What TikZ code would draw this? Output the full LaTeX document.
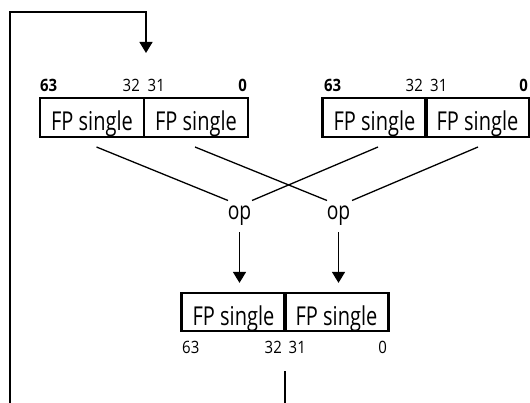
\documentclass[tikz,border=0pt]{standalone}
\usepackage{fontspec}
\setmainfont{Open Sans}
\newfontfamily\cellfont[FakeStretch=0.77]{Open Sans}
\newfontfamily\numfont[FakeStretch=0.88]{Open Sans}
\usetikzlibrary{arrows.meta}
\tikzset{
  cell/.style={draw, line width=2.2pt, minimum width=104pt, minimum height=39pt,
    inner sep=0pt, font=\cellfont\fontsize{26}{26}\selectfont,
    text height=29pt, text depth=2pt},
  bcell/.style={cell, minimum height=38pt},
  lab/.style={inner sep=0pt, font=\numfont\fontsize{17}{17}\selectfont},
  opnode/.style={inner sep=0pt, font=\cellfont\fontsize{25}{25}\selectfont},
  wire/.style={line width=1.3pt},
  arr/.style={wire, -{Triangle[length=11pt,width=13pt]}}
}
\begin{document}
\begin{tikzpicture}[x=1pt,y=-1pt]
\useasboundingbox (0,0) rectangle (530,403);
% top-left register
\node[cell] (L1) at (92,117.5) {FP single};
\node[cell] (L2) at (196,117.5) {FP single};
\node[lab, anchor=base west] (l63) at (40,92) {\bfseries 63};
\node[lab, anchor=base east] (l32) at (140,92) {32};
\node[lab, anchor=base west] (l31) at (147.5,92) {31};
\node[lab, anchor=base east] (l0) at (247,92) {\bfseries 0};
% top-right register
\node[cell] (R1) at (374.5,117.5) {FP single};
\node[cell] (R2) at (477.5,117.5) {FP single};
\node[lab, anchor=base west] (r63) at (324,92) {\bfseries 63};
\node[lab, anchor=base east] (r32) at (423,92) {32};
\node[lab, anchor=base west] (r31) at (430,92) {31};
\node[lab, anchor=base east] (r0) at (528,92) {\bfseries 0};
% result register
\node[bcell] (B1) at (233.5,312) {FP single};
\node[bcell] (B2) at (336.5,312) {FP single};
\node[lab, anchor=base west] (b63) at (182,353) {63};
\node[lab, anchor=base east] (b32) at (282,353) {32};
\node[lab, anchor=base west] (b31) at (288.5,353) {31};
\node[lab, anchor=base east] (b0) at (387,353) {0};
% operations
\node[opnode, anchor=base] (op1) at (239.5,220) {op};
\node[opnode, anchor=base] (op2) at (338.5,220) {op};
% crossing wires
\coordinate (s1) at (96.5,147);
\coordinate (e1) at (228,200.5);
\coordinate (s2) at (195,147);
\coordinate (e2) at (327,200.5);
\coordinate (s3) at (378,147);
\coordinate (e3) at (252,200.5);
\coordinate (s4) at (478,147);
\coordinate (e4) at (352,200.5);
\draw[wire] (s1) -- (e1);
\draw[wire] (s2) -- (e2);
\draw[wire] (s3) -- (e3);
\draw[wire] (s4) -- (e4);
% op results
\draw[arr, shorten <=6pt, shorten >=9pt] (op1.south) -- (op1.south |- B1.north);
\draw[arr, shorten <=6pt, shorten >=9pt] (op2.south) -- (op2.south |- B2.north);
% feedback loop
\coordinate (outtop) at (285,371);
\coordinate (outbot) at (285,403);
\coordinate (fb) at (10,403);
\coordinate (corner) at (146,12);
\coordinate (tip) at (146,53);
\draw[wire] (outtop) -- (outbot);
\draw[arr] (fb) |- (corner) -- (tip);
\end{tikzpicture}
\end{document}
